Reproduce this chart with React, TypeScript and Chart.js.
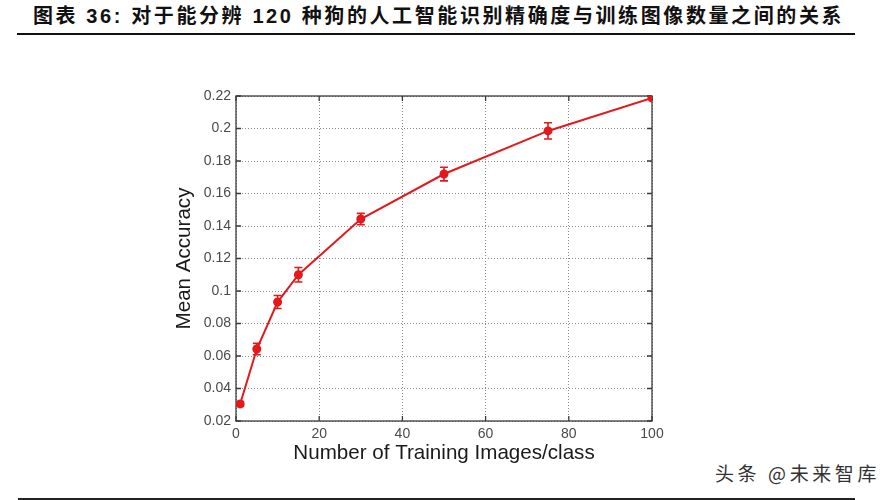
import React, { useEffect, useRef } from "react";
import { Chart, registerables } from "chart.js";

Chart.register(...registerables);

const titleText = "图表 36: 对于能分辨 120 种狗的人工智能识别精确度与训练图像数量之间的关系";
const watermarkText = "头条 @未来智库";
const xAxisTitle = "Number of Training Images/class";
const yAxisTitle = "Mean Accuracy";

const trainingImages = [1, 5, 10, 15, 30, 50, 75, 100];
const meanAccuracy = [0.0305, 0.0643, 0.0932, 0.11, 0.1443, 0.172, 0.1985, 0.2188];
const errorHalf = [0.0015, 0.0035, 0.004, 0.0045, 0.0035, 0.0042, 0.005, 0];

const xTicks = [0, 20, 40, 60, 80, 100];
const yTicks = [0.02, 0.04, 0.06, 0.08, 0.1, 0.12, 0.14, 0.16, 0.18, 0.2, 0.22];

const RED = "#e3191c";
const FONT = "'Liberation Sans', Arial, sans-serif";

const errorBarPlugin = {
  id: "errorBars",
  afterDatasetsDraw(chart: any) {
    const { ctx, scales } = chart;
    const xs = scales.x;
    const ys = scales.y;
    ctx.save();
    ctx.strokeStyle = RED;
    ctx.lineWidth = 1.6;
    trainingImages.forEach((xv, i) => {
      const e = errorHalf[i];
      if (!e) return;
      const x = xs.getPixelForValue(xv);
      const y1 = ys.getPixelForValue(meanAccuracy[i] + e);
      const y2 = ys.getPixelForValue(meanAccuracy[i] - e);
      ctx.beginPath();
      ctx.moveTo(x, y1);
      ctx.lineTo(x, y2);
      ctx.moveTo(x - 4, y1);
      ctx.lineTo(x + 4, y1);
      ctx.moveTo(x - 4, y2);
      ctx.lineTo(x + 4, y2);
      ctx.stroke();
    });
    ctx.restore();
  },
};

const boxPlugin = {
  id: "matlabBox",
  beforeDatasetsDraw(chart: any) {
    const { ctx, chartArea, scales } = chart;
    const { left, right, top, bottom } = chartArea;
    ctx.save();
    ctx.strokeStyle = "#3a3a3a";
    ctx.lineWidth = 1.3;
    ctx.strokeRect(left, top, right - left, bottom - top);
    const tl = 5;
    ctx.beginPath();
    xTicks.forEach((v) => {
      const x = scales.x.getPixelForValue(v);
      ctx.moveTo(x, bottom);
      ctx.lineTo(x, bottom - tl);
      ctx.moveTo(x, top);
      ctx.lineTo(x, top + tl);
    });
    yTicks.forEach((v) => {
      const y = scales.y.getPixelForValue(v);
      ctx.moveTo(left, y);
      ctx.lineTo(left + tl, y);
      ctx.moveTo(right, y);
      ctx.lineTo(right - tl, y);
    });
    ctx.stroke();
    ctx.restore();
  },
};

function AccuracyChart() {
  const ref = useRef<HTMLCanvasElement | null>(null);
  useEffect(() => {
    if (!ref.current) return;
    const chart = new Chart(ref.current, {
      type: "line",
      data: {
        datasets: [
          {
            data: trainingImages.map((x, i) => ({ x, y: meanAccuracy[i] })),
            borderColor: RED,
            backgroundColor: RED,
            borderWidth: 2,
            pointRadius: 3.5,
            pointBackgroundColor: RED,
            pointBorderColor: RED,
            tension: 0,
          },
        ],
      },
      options: {
        animation: false,
        responsive: false,
        maintainAspectRatio: false,
        layout: { padding: { top: 16, right: 18, bottom: 0, left: 0 } },
        plugins: { legend: { display: false }, tooltip: { enabled: false } },
        scales: {
          x: {
            type: "linear",
            min: 0,
            max: 100,
            afterBuildTicks: (axis: any) => {
              axis.ticks = xTicks.map((value) => ({ value }));
            },
            afterFit: (axis: any) => {
              axis.height = 59;
            },
            ticks: {
              padding: 5,
              color: "#4a4a4a",
              font: { family: FONT, size: 14 },
              maxRotation: 0,
              callback: (v: any) => String(v),
            },
            grid: { color: "#8a8a8a", lineWidth: 1, drawTicks: false },
            border: { display: false, dash: [1, 2] },
            title: {
              display: true,
              text: xAxisTitle,
              color: "#1a1a1a",
              font: { family: FONT, size: 20.6 },
              padding: { top: 0, bottom: 14 },
            },
          },
          y: {
            type: "linear",
            min: 0.02,
            max: 0.22,
            afterBuildTicks: (axis: any) => {
              axis.ticks = yTicks.map((value) => ({ value }));
            },
            afterFit: (axis: any) => {
              axis.width = 86;
            },
            ticks: {
              padding: 5,
              color: "#4a4a4a",
              font: { family: FONT, size: 14 },
              callback: (v: any) => String(parseFloat(Number(v).toFixed(2))),
            },
            grid: { color: "#8a8a8a", lineWidth: 1, drawTicks: false },
            border: { display: false, dash: [1, 2] },
            title: {
              display: true,
              text: yAxisTitle,
              color: "#1a1a1a",
              font: { family: FONT, size: 20.6 },
              padding: { top: 22, bottom: 0 },
            },
          },
        },
      },
      plugins: [boxPlugin, errorBarPlugin],
    });
    return () => chart.destroy();
  }, []);
  return (
    <canvas
      ref={ref}
      width={520}
      height={400}
      style={{ position: "absolute", left: 150, top: 80, width: 520, height: 400 }}
    />
  );
}

export default function App() {
  return (
    <div
      style={{
        position: "fixed",
        left: 0,
        top: 0,
        width: 894,
        height: 500,
        background: "#ffffff",
        overflow: "hidden",
      }}
    >
      <div
        style={{
          position: "absolute",
          left: 33,
          top: 3,
          fontFamily: "'Liberation Sans', 'Noto Sans CJK SC', sans-serif",
          fontWeight: "bold",
          fontSize: 20,
          letterSpacing: 2.6,
          color: "#111",
          whiteSpace: "nowrap",
          lineHeight: "26px",
        }}
      >
        {titleText}
      </div>
      <div style={{ position: "absolute", left: 17, top: 33, width: 838, height: 2, background: "#111" }} />
      <AccuracyChart />
      <div
        style={{
          position: "absolute",
          left: 715,
          top: 460,
          fontFamily: "'Noto Sans CJK SC', sans-serif",
          fontSize: 19,
          letterSpacing: 3.6,
          color: "#333",
          whiteSpace: "nowrap",
          lineHeight: "26px",
        }}
      >
        {watermarkText}
      </div>
      <div style={{ position: "absolute", left: 18, top: 498, width: 837, height: 2, background: "#222" }} />
    </div>
  );
}
